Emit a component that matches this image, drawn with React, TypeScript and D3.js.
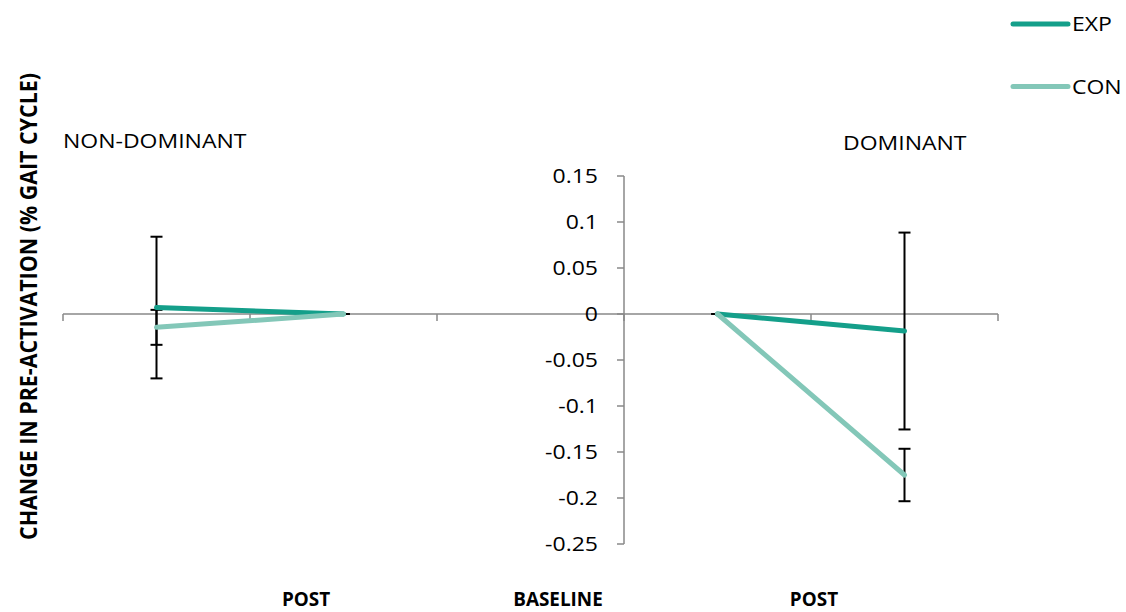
import React from "react";
import * as d3 from "d3";

// Five category slots: non-dominant POST / BASELINE, a spacer, dominant BASELINE / POST
const slots = [0, 1, 2, 3, 4];
const expValues: (number | null)[] = [0.007, 0, null, 0, -0.0185];
const conValues: (number | null)[] = [-0.0145, 0, null, 0, -0.175];
const expErrors: (number | null)[] = [0.077, 0, null, 0, 0.107];
const conErrors: (number | null)[] = [0.019, 0, null, 0, 0.0285];
const yTicks = [0.15, 0.1, 0.05, 0, -0.05, -0.1, -0.15, -0.2, -0.25];
const seriesNames = ["EXP", "CON"];
const seriesColors = ["#149F8A", "#83C7B8"];
// Bottom phase labels, placed as a fraction across the plot width
const phaseLabels = ["POST", "BASELINE", "POST"];
const phasePos = [0.2599, 0.5294, 0.8032];
const sideLabels = ["NON-DOMINANT", "DOMINANT"];

const W = 1126;
const H = 612;
const plotLeft = 63;
const plotRight = 998;
const yAxisSlot = 3; // vertical axis sits at the left edge of slot 3

const FONT = "'Open Sans', 'DejaVu Sans', sans-serif";
const SX = 1.15;

function Txt({ x, y, anchor = "start", children, size = 20, weight = 400, sx = SX }: any) {
  return (
    <g transform={`translate(${x},${y}) scale(${sx},1)`}>
      <text x={0} y={0} textAnchor={anchor} fontFamily={FONT} fontSize={size} fontWeight={weight} fill="#000">
        {children}
      </text>
    </g>
  );
}

export default function App() {
  const x = d3.scaleBand<number>().domain(slots).range([plotLeft, plotRight]).paddingInner(0).paddingOuter(0);
  const y = d3.scaleLinear().domain([-0.25, 0.15]).range([544, 176]);
  const cx = (i: number) => (x(i) as number) + x.bandwidth() / 2;
  const y0 = y(0);
  const axisX = x(yAxisSlot) as number;
  const axisColor = "#898989";

  const line = d3
    .line<[number, number | null]>()
    .defined((d) => d[1] !== null)
    .x((d) => cx(d[0]))
    .y((d) => y(d[1] as number));

  const series = [expValues, conValues];
  const errors = [expErrors, conErrors];

  const xTickPos = [...slots.map((i) => x(i) as number), plotRight];

  return (
    <svg width={W} height={H} style={{ position: "absolute", left: 0, top: 0 }}>
      <rect width={W} height={H} fill="#fff" />

      {/* horizontal axis at zero */}
      <line x1={plotLeft} x2={plotRight} y1={y0} y2={y0} stroke={axisColor} strokeWidth={1.5} />
      {xTickPos.map((px, i) => (
        <line key={i} x1={px} x2={px} y1={y0} y2={y0 + 7} stroke={axisColor} strokeWidth={1.5} />
      ))}

      {/* vertical axis */}
      <line x1={axisX} x2={axisX} y1={y(0.15)} y2={y(-0.25)} stroke={axisColor} strokeWidth={1.5} />
      {yTicks.map((t) => (
        <g key={t}>
          <line x1={axisX - 7} x2={axisX} y1={y(t)} y2={y(t)} stroke={axisColor} strokeWidth={1.5} />
          <Txt x={598} y={y(t) + 7} anchor="end">
            {String(t)}
          </Txt>
        </g>
      ))}

      {/* error bars */}
      {series.map((vals, s) =>
        vals.map((v, i) => {
          const e = errors[s][i];
          if (v === null || e === null) return null;
          const px = cx(i);
          const top = y(v + e);
          const bot = y(v - e);
          return (
            <g key={`${s}-${i}`} stroke="#000" strokeWidth={2}>
              <line x1={px} x2={px} y1={top} y2={bot} />
              <line x1={px - 6} x2={px + 6} y1={top} y2={top} />
              <line x1={px - 6} x2={px + 6} y1={bot} y2={bot} />
            </g>
          );
        })
      )}

      {/* series lines */}
      {series.map((vals, s) => (
        <path
          key={s}
          d={line(vals.map((v, i) => [i, v] as [number, number | null])) || ""}
          fill="none"
          stroke={seriesColors[s]}
          strokeWidth={5}
          strokeLinecap="round"
          strokeLinejoin="round"
        />
      ))}

      {/* legend */}
      {seriesNames.map((n, i) => {
        const ly = 24 + i * 62.5;
        return (
          <g key={n}>
            <line x1={1013} x2={1068} y1={ly} y2={ly} stroke={seriesColors[i]} strokeWidth={5} strokeLinecap="round" />
            <Txt x={1072} y={ly + 7}>{n}</Txt>
          </g>
        );
      })}

      {/* side labels */}
      <Txt x={63} y={148}>{sideLabels[0]}</Txt>
      <Txt x={843} y={150}>{sideLabels[1]}</Txt>

      {/* phase labels */}
      {phaseLabels.map((l, i) => (
        <Txt key={i} x={plotLeft + phasePos[i] * (plotRight - plotLeft)} y={606} anchor="middle" weight={700} sx={0.97} size={19.5}>
          {l}
        </Txt>
      ))}

      {/* y axis title */}
      <g transform={`translate(37,306.5) scale(${SX},1) rotate(-90)`}>
        <text
          x={0}
          y={0}
          textAnchor="middle"
          fontFamily={FONT}
          fontSize={20}
          fontWeight={700}
          textLength={467}
          lengthAdjust="spacingAndGlyphs"
        >
          CHANGE IN PRE-ACTIVATION (% GAIT CYCLE)
        </text>
      </g>
    </svg>
  );
}
